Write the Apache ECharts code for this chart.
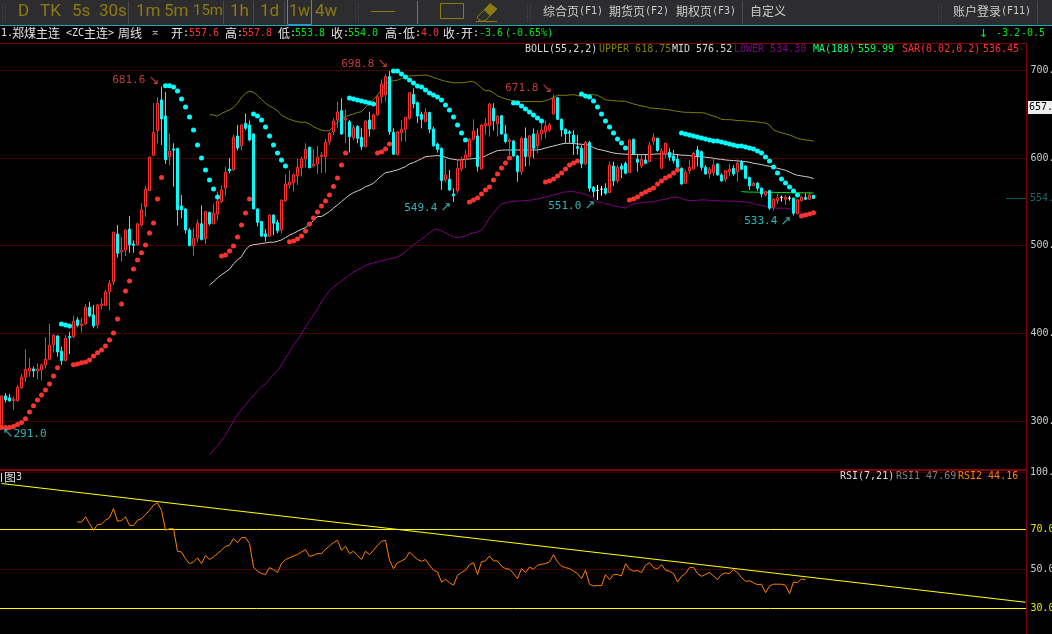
<!DOCTYPE html>
<html><head><meta charset="utf-8"><style>html,body{margin:0;padding:0;background:#000;overflow:hidden}#c{width:1052px;height:634px}</style>
<script src="https://cdn.jsdelivr.net/npm/echarts@6/dist/echarts.min.js"></script></head><body><div id="c"></div>
<script>
// [open, close, low, high], one weekly bar per row
const candles = [
[291.7,328.6,291,329],[328.6,324,321,331.6],[326.3,322.9,321.8,331],[323.3,324.8,312.6,327.8],[323.3,338.5,322,341],
[338,350,336.6,353.7],[350,359,344.6,381.8],[357,360.5,350.6,371.6],[359.4,357.1,350,362],[357,359,347.6,365.9],
[358.3,364,346,365],[364,370.4,360,395.5],[370.4,386.4,369.7,410.7],[387,397.8,378,399],[397,378.8,373.5,398],
[379.6,369,364,385],[369,394.4,368,398],[396.3,395,376.5,401.6],[396.3,413.8,394.4,419.9],[415.3,409.2,407,418.4],
[408.8,410.7,401,417.6],[410.7,429.8,409.6,433.6],[429.8,419.9,418.4,435.8],[421,408.5,405.8,432.4],[409.6,432.4,405.4,433.6],
[431.7,433.6,427.5,440],[431.7,447.3,431.3,449.5],[447.3,457.1,426,461],[458.7,515.3,455,516],[513.4,491.4,486.4,523.7],
[493,495,482,510],[495,518,488.3,518.8],[519,501,492,534],[502,500.5,492,506],[500.9,525,500.5,526],
[523.7,540.9,522,548.5],[544.7,564.4,533,568.2],[563,601,563,601.8],[603,629.5,602.5,662.6],[631.4,662.6,617,669.4],
[666.4,644.7,615,681.6],[648,598,593.4,675.5],[601.7,608,592,628],[610.5,609.3,567.5,617],[611,541,523,612],
[545.4,541,531.4,558],[542,518,514,543],[518,500,500,520],[500,508.5,488.8,520],[508.5,525.7,503.6,530],
[525,507,506,546],[508,539,502,540],[538,525,523,539],[525,537,525,548],[536,551,529,562],
[550.4,563.7,549,569],[565.6,584,557,590],[587.6,585.4,582.7,600],[586.5,623.8,585.7,626.8],[625.3,611.6,608.6,637.8],
[614,637.8,608.6,639],[639.7,634,632,651],[637.8,620.7,619,643],[627.6,542,542,628],[542,526.8,522,542.8],
[527.6,511,510,528],[513.5,510.4,504.7,519],[511,535,510,536],[535,525.6,512,536],[526.4,517,514,529.5],
[518,552,514,553],[551.5,570.5,550,581.6],[569.4,572.8,565.6,586.5],[572,580.8,561.8,582.7],[580,589.5,569.4,599.8],
[589,599,579,601.7],[599,610,589.5,617],[612.4,589,588.4,613],[591,593.4,589.5,610],[593.4,601,582,613.9],
[601.7,603.6,583,607],[601.7,618,583.5,621.9],[618.8,628.3,615,630],[630,642.4,626.4,645.4],[643.5,652.7,634,664.5],
[654.2,627.6,626.4,668.3],[643.5,645.4,617,655.7],[641.6,624.5,606.3,643.5],[623.4,634.8,620.7,637.8],[636,622.6,617,637.8],
[623.8,613,609.3,634],[613,642.4,612.4,643.5],[643.5,633.3,624.5,653],[633.3,649.3,632,651],[649.3,670,648.5,672],
[670,684.6,662.6,690],[672,693,664.5,696],[693,630,626.4,699.4],[629.5,604.4,603.6,634],[604,630,603,631],
[629,633,618.8,643.5],[633,646.6,618.8,647],[645.4,674.7,644,675.5],[672.8,661.8,657,679.7],[663.3,648,640,664.5],
[650,644.3,634,653],[641.6,652.3,640.9,657],[652,633,628.3,653],[633.3,614,613,636],[616,610,606.3,617.7],
[611.2,574.3,563.7,612.4],[575,580.8,573,599],[575.9,563.7,562.5,586.5],[559,557.2,550,565.6],[563,588.4,560,598],
[587.6,597.9,584.6,601.7],[598.7,603.6,588.4,609.3],[601.7,621.5,601,622.6],[621.5,631,620,644.3],[625.3,590.3,584.6,634],
[587.6,637.8,587.2,639],[637,639.7,626.4,645.4],[637,661.8,624.5,662.6],[656.9,642.4,631.4,662.6],[639,648,624.5,649],
[648.5,627.6,626.4,649],[627.6,618.8,617,638],[618.8,620.7,603.6,622.6],[619.6,602.5,601.7,620.7],[602.5,584.6,573,603.6],
[584.6,622.6,580.8,624.5],[622.6,601.7,590.3,635],[601.7,625.3,591,626.4],[627.6,611.2,599.8,634],[614,627.6,605.5,632],
[627.6,632,620.7,639.7],[630,636.7,622.6,642.8],[632,638,630,640],[650.4,668.3,649.3,672.8],[669,644.3,643.5,670],
[644.3,632.2,624.5,645.4],[632.9,627.6,617,634],[630,628.4,617,632],[626.4,617.7,603.6,632],[613,611.2,603.6,626.4],
[611.2,593.4,588.4,615],[593.4,617.7,592,619.6],[617.7,565.6,561.8,619.6],[566.7,561.8,555.3,568.2],[563,563,552.3,569.4],
[564.5,564.5,557.2,568],[565.6,559.9,558,571.3],[560.7,592,559.9,596],[591,574,568.3,596],[574,589.5,571.3,592],
[591,587.3,577,594],[594,582.7,581.6,596],[583.5,620.7,582.7,621.5],[621.5,604.8,603.6,622.3],[598.7,595.3,584.6,603.6],
[591,598.7,588.4,603.6],[597.9,594.1,593,604.8],[596,615,595.3,618.8],[618.8,623.8,615,628.3],[622.6,608.6,607.4,623.4],
[588.4,608.2,587.6,611.2],[604.8,617,599.8,617.7],[606.7,601,597,611.2],[602.5,597.2,594,609.3],[598.7,589.5,586.5,604.8],
[588.4,570.5,569.4,589.5],[571.3,583.5,570.5,586.5],[585.4,589.5,582,598],[587.6,605.5,587.2,607.4],[609.3,602.5,590.3,613.9],
[607.4,589.5,585.8,608.6],[589.5,582,580.8,592],[582,587.3,577,589.5],[583.5,592.2,579.7,599.8],[593.4,580.8,580,594],
[580.8,574,573,582.7],[575.9,585.8,573,586.5],[584.6,587.3,579,593.4],[588.4,582,579.7,592.2],[584.6,594.1,573,598.7],
[596,587.3,586.5,597.9],[591,577,576,591.8],[577.8,568.3,563.7,578.9],[568.6,571.3,568.3,572.5],[571.3,565.6,562.5,573],
[565.6,559.1,555.3,566.7],[558,561.8,556,562.5],[563,542.8,541,563.7],[543.9,553,540,554.2],[551.5,554.6,547.7,559.9],
[555.3,555.3,550.4,557.2],[553,555.3,546.6,558],[554.2,554.2,551.5,556.8],[554.2,537,534.4,555.3],[536.3,552.3,535.9,553],
[551.5,555.3,550.4,556.8],[555,553,552.3,559.9],[553,558,552.3,561.8],[557.6,554,553.8,557.8]
];
const dojiBars = [149,150,195,197];
const slotCount = 257;

const bollStart = 52;
const bollUpper = [649.3,649.3,648,651,653,655,658,662.6,669.4,674,676.3,675,671.7,667,662.6,659.5,657,654,649,646.6,644.3,642.8,641.3,641,641,639,636,633.7,
632,631,631.4,636,640.5,644.3,647.3,649.2,650.4,652,653,658,662.6,667,672,677.8,684.6,687.3,688.4,689,691,693,693.7,694,694.5,694.5,695,693.7,692,690.7,689,687.7,687,686,686,686,686.5,687.3,687.3,684.6,680,677,677,674.7,671,669.4,667.5,666.4,665.6,664.8,664.5,664.5,664.5,664.5,664.5,664.5,665.6,667,669.4,671.7,
671.7,671.7,672,672.5,671.3,671,671.7,672.5,672.5,671.7,669.4,666.4,666,665.6,665.2,664.9,664.9,663.3,661.8,660.7,659.5,658.8,657.3,656.9,656.5,656.1,655.7,655,654.2,653.4,652.7,652.3,652.3,651.9,651.9,651.9,651.2,649.3,648,646.6,644.3,643.9,643.9,643.5,642.8,642.8,642.4,642,641.7,641.3,640.5,640.1,637.9,632.2,630.3,629,627.6,626.4,624.6,622.6,621.5,620.7,620.4,619.2];
const bollMid = [455.3,458.7,463.3,466.8,470,473.2,479.3,483.8,487.6,495.2,499.8,501.3,501.7,502.5,503.2,504,504,505.1,506.6,509.3,512,514.2,516.5,518.8,520.7,524.5,528.7,533.3,
533.3,536,539,542.8,546.6,550.4,554.2,558,560.6,562.5,564.4,567.5,569,571.3,575.9,579.7,583.5,584.2,585.4,586.5,588.4,590.3,593.4,594.9,597.1,599.4,601.7,602.1,602.5,602.9,602.1,601,599.4,598.7,597.9,597.9,598.7,599,599.4,599.8,600.6,602.5,604.8,606.7,608.6,609,609.3,609.3,609.3,609.3,609.3,609.3,609.3,609.3,609.3,610.1,611.6,612.7,613.9,615,616.2,616.9,616.9,
616.6,616.2,615.8,615.4,614.7,612,610.1,609.3,608.2,607,605.9,605.2,604.8,604.4,604.4,604,604,604,604,604.4,604.4,604.8,604.8,604.8,604.8,604.4,604,603.3,603.3,602.9,602.1,601.7,601.4,601,600.6,599.8,599,598.7,597.9,597.5,597.2,596.8,596.4,596,595.3,594.1,593.4,592.6,591.5,590.7,589.6,588.4,587.3,586.1,584.2,581.9,580.4,579.7,578.9,578.2,576.6];
const bollLower = [261.3,267,271.5,277.3,284,292,300,307,312.7,318.3,324,328.6,334.3,339,342.3,348,352.6,357,364,372,378.8,386.8,392.5,399.3,407.3,414.2,421,427.9,435.9,442.7,448.4,453,456.4,459.8,463.3,466.7,470,472.4,474.7,477,479.2,480.4,481.5,482.7,483.8,485,486,487.3,489.5,493,497.5,501,504.3,507.7,511,514.6,518,519,516.9,514.6,512.3,510,508.9,510,511,513.4,514.6,515.7,518,523.7,531.7,537.4,543,547.7,549,550,550.5,551,551,551.7,552,552.5,553.4,554.5,555.7,556.8,558,559,
560.7,561.4,561.8,561.8,560.7,559.9,558.4,556.9,553,550,549.3,548.1,547.3,545.4,544.7,543.9,542.8,546.2,547.7,548.5,548.9,549.3,550,550.4,551.5,552.3,553,554.6,555.3,555.3,553.8,552.3,551.5,551.5,551.9,552.3,552.3,551.9,551.5,551.5,551.1,551.1,550.8,550.8,550.4,550.4,550,549.3,548.1,547,546.2,545,543.9,543.2,542.8,542.8,542.8,542.4,540.9,538.6,537.5,536.3,535.6,535.2];

const maStart = 185;
const ma188 = [561.8,561.4,561.2,561.2,561.1,561.1,561,561,560.9,560.8,560.8,560.7,560.6,560.6,560.5,560.5,560.4,560.3,560.2];

// stop-and-reverse dots: [first bar, values]
const sarRed = [
 [0,[292.5,292.5,292.5,293.6,295.9,298.2,302.4,310.3,317.2,324,329.7,335.4,342.3,351.4,360.6]],
 [18,[364,365.1,366.3,367.4,369.7,374.2,377.7,381,385.6,392.5,400.5,416.5,433.6,448.4,459.8,473.5,483.8,492,500.9,514.6,526,553.4,577.8]],
 [55,[488.4,489.5,494,499.8,510,523.7,537.4,553.4]],
 [72,[504.4,505.5,507.8,511.2,516.9,524.9,531.7,538.6,545.4,551.1,558,567.5,577.4,592.2,605.9]],
 [94,[605.9,607,610.5,616.2]],
 [117,[550,552.3,554.6,559.1,563.7,567.1,575,582,588.8,594.5,600.2]],
 [136,[572.8,574,576.2,579.7,583,587.7,592.2,594.5,596.8]],
 [157,[552.3,553.4,555.7,559.1,561.4,563.7,566,570.5,574,577.4,579.7,583.1,586.5]],
 [200,[534,535.2,536.3,537.5]]
];
const sarCyan = [
 [15,[410.7,409.6,408.5]],
 [41,[682.7,682.7,681.2,676.6,667.5,658.4,647,632,615,600.2,586.5,575,564.8,555.7]],
 [63,[650.4,648,643.5,635.6,625.3,615,605.9,597.9,591]],
 [87,[668.6,667.5,666.4,665.2,664,662.9,661.8]],
 [98,[699.4,699.4,696,692.6,689.2,685.8,682.3,681.2,677.8,674.4,672,669.8,666.4,660.7,655,647,637.8,628.7,620.7]],
 [128,[662.9,662.9,659.5,656,652.7,649.3,645.8,642.4]],
 [145,[673.2,671,669.8,665.2,658.4,650.4,642.4,635.6,628.7,621.9,617.3,611.6]],
 [170,[628.7,627.6,626.4,625.3,624.2,623,621.9,620.7,619.6,619.6,618.5,617.3,616.2,615,613.9,613.9,612.8,611.6,610.5,608.2,605.9,601.4,596.8,589.9,583.1,576.3,571.7,567.1,562.6,558]]
];

const rsiStart = 19;
const rsi2 = [73.8,73.8,76.4,73,69.6,72.5,72.7,74.7,75.9,80.6,74.2,74.5,76.4,72.1,72,74.7,75.5,77.5,79.7,82.3,83.5,79.7,69.6,70.4,70.4,59,58.6,55.2,52.7,53.6,55.6,52.7,56.8,54.8,56.1,57.8,59.5,61.5,62,65.4,63.4,65.9,65.9,62.9,51,48.9,47.7,47.2,50.7,49.7,48.2,52.7,54.8,55.6,56.6,57.3,58.6,59.8,56.4,56.9,57.8,57.8,60,61.7,63.4,64.5,59.5,61.5,57.8,59,56.9,54.8,59,57.3,59.5,62,64,64.5,54.4,50.2,53.2,54.1,55.2,58.6,56.6,54.8,53.9,54.8,51.9,49.4,48.5,43.4,44.8,43.1,41.8,46.8,48.2,49.4,52.2,53.2,47.2,53.6,54.1,56.6,54.1,54.1,51.4,50.2,49.9,47.7,45.1,
50.2,48.2,51,49.9,51.9,52.4,52.7,53.6,57.3,53.6,51.4,50.7,50.2,48.9,47.7,45.1,49.4,42.3,41.4,41.6,41.6,47.2,44.6,47.2,47.2,46.5,52.7,49.9,48.9,49.2,48.2,51.9,53.2,50.7,50,52.2,49.4,48.9,47.7,43.4,46.3,47.7,50.7,50.9,47.7,46.3,47.3,48.2,46.5,44.6,47.3,48,47.7,49.7,48.2,45.6,43.8,44,43,42.1,42.3,38,41.4,42.3,42.3,42.3,41.8,37.5,43.4,43.1,45,44.6];
const rsiTrend = [[0,93.3],[256,33.2]];
const rsiLevels = [70,30];
const rsiMidLevels = [50];
const rsiTicks = [70,50,30];
const priceTicks = [300,400,500,600,700];

const highMarks = [[40,681.6,'681.6','↘',-2,-6],[97,699.4,'698.8','↘',-1,-7],[138,672.8,'671.8','↘',-1,-6]];
const lowMarks = [[113,550,'549.4','↗',-2,6],[149,551,'551.0','↗',-2,5],[198,534.4,'533.4','↗',-2,6]];
const startMark = [[0,291,'291.0','↖',1,5]];

const OLIVE='#8c7a12', MONO="'DejaVu Sans Mono'", CJK="'Noto Sans CJK SC'";
const RED='#ff3232', CYAN='#00ffff', GREEN='#00e61a';

function t(text,x,y,fill,size,fam,align){return {type:'text',z:50,silent:true,style:{text,x,y,fill,font:(size||10)+'px '+(fam||MONO),textVerticalAlign:'middle',verticalAlign:'middle',textAlign:align||'left',align:align||'left'}};}
function r(x,y,w,h,fill){return {type:'rect',z:40,silent:true,shape:{x,y,width:w,height:h},style:{fill}};}
function hollow(x,y,w,h,stroke){return {type:'rect',z:41,silent:true,shape:{x,y,width:w,height:h},style:{fill:'transparent',stroke,lineWidth:1}};}
function dots(x){const a=[];for(let j=0;j<8;j++){a.push(r(x,4+j*2.4,1,1,'#4a4a4e'));a.push(r(x+3,4+j*2.4,1,1,'#4a4a4e'));}return a;}

const g=[
 r(0,0,1052,25,'#2d2d30'), r(0,25,1052,1,'#22a8b0'),
 t('D',18,11.5,OLIVE,17,'Roboto'),t('TK',40,11.5,OLIVE,17,'Roboto'),t('5s',72,11.5,OLIVE,17,'Roboto'),t('30s',99,11.5,OLIVE,17,'Roboto'),
 t('1m',136,11.5,OLIVE,17,'Roboto'),t('5m',164,11.5,OLIVE,17,'Roboto'),t('15m',193,11.5,OLIVE,15,'Roboto'),
 t('1h',230,11.5,OLIVE,17,'Roboto'),t('1d',260,11.5,OLIVE,17,'Roboto'),t('1w',289,12,OLIVE,16,'Roboto'),t('4w',315,11.5,OLIVE,17,'Roboto'),
 hollow(287.5,-2,24,26.5,'#2a90e0'),
 r(371,11,24,1,OLIVE),hollow(440.5,3.5,23,15,OLIVE),
 {type:'polygon',z:41,silent:true,shape:{points:[[477,17],[490,4],[497,9],[485,21],[480,21]]},style:{fill:'transparent',stroke:OLIVE}},
 {type:'polygon',z:42,silent:true,shape:{points:[[484,10],[490,3],[497,9],[490,16]]},style:{fill:OLIVE}},
 r(476,21,21,1,OLIVE),
 r(128,1,1,23,'#4a4a4e'),r(223,1,1,23,'#4a4a4e'),r(253,1,1,23,'#4a4a4e'),r(284,1,1,23,'#4a4a4e'),r(417,1,1,23,OLIVE),r(742,1,1,23,'#4a4a4e'),r(1037,1,1,23,'#4a4a4e'),
 ...dots(2),...dots(355),...dots(527),...dots(938),
 t('综合页',543,11,'#cccccc',12,CJK),t('(F1)',579,11,'#cccccc'),t('期货页',609,11,'#cccccc',12,CJK),t('(F2)',645,11,'#cccccc'),
 t('期权页',676,11,'#cccccc',12,CJK),t('(F3)',712,11,'#cccccc'),t('自定义',750,11,'#cccccc',12,CJK),t('账户登录',953,11,'#cccccc',12,CJK),t('(F11)',1001,11,'#cccccc'),
 // quote line
 t('1.',1,33.5,'#e6e6e6'),t('郑煤主连',12,33.5,'#e6e6e6',12,CJK),t('<ZC',66,33.5,'#e6e6e6'),t('主连',84,33.5,'#e6e6e6',12,CJK),t('>',108,33.5,'#e6e6e6'),t('周线',118,33.5,'#e6e6e6',12,CJK),t('≍',152,33.5,'#e6e6e6'),
 t('开',171,33.5,'#e6e6e6',12,CJK),t(':',183,33.5,'#e6e6e6'),t('557.6',189,33.5,RED),
 t('高',225,33.5,'#e6e6e6',12,CJK),t(':',237,33.5,'#e6e6e6'),t('557.8',242,33.5,RED),
 t('低',278,33.5,'#e6e6e6',12,CJK),t(':',290,33.5,'#e6e6e6'),t('553.8',295,33.5,GREEN),
 t('收',331,33.5,'#e6e6e6',12,CJK),t(':',343,33.5,'#e6e6e6'),t('554.0',348,33.5,GREEN),
 t('高',385,33.5,'#e6e6e6',12,CJK),t('-',397,33.5,'#e6e6e6'),t('低',403,33.5,'#e6e6e6',12,CJK),t(':',415,33.5,'#e6e6e6'),t('4.0',421,33.5,RED),
 t('收',443,33.5,'#e6e6e6',12,CJK),t('-',455,33.5,'#e6e6e6'),t('开',461,33.5,'#e6e6e6',12,CJK),t(':',473,33.5,'#e6e6e6'),t('-3.6',479,33.5,GREEN),t('(-0.65%)',505,33.5,GREEN),
 t('↓',979,33.5,GREEN,15),t('-3.2',996,33.5,GREEN),t('-0.5',1021,33.5,GREEN),
 // indicator legend
 t('BOLL(55,2,2)',525,49,'#d8d8d8'),t('UPPER 618.75',599,49,'#808000'),t('MID 576.52',672,49,'#d8d8d8'),t('LOWER 534.30',734,49,'#800080'),
 t('MA(188)',813,49,'#00ff7f'),t('559.99',858,49,'#00ff40'),t('SAR(0.02,0.2)',902,49,RED),t('536.45',983,49,RED),
 // sub-panel legend
 t('图',4,477,'#dddddd',12,CJK),t('3',16,477,'#dddddd'),r(1,472,1,10,'#dddddd'),
 t('RSI(7,21)',840,476,'#dddddd'),t('RSI1 47.69',896,476,'#808080'),t('RSI2 44.16',958,476,'#ff8000'),
 t('100.0',1030,472,'#cccccc'),
 // frame
 r(0,43,1026,1,'#800000'),r(0,469,1026,2,'#800000'),r(0,472,1026,1,'#400000'),
 r(1027,26,2,608,'#000000'),r(1026,43,1,591,'#800000'),
 // last price markers
 r(1028,101,24,13,'#eeeeee'),t('657.',1029,107.5,'#000000'),
 r(1006,198,20,1,'#0a5a5a'),t('554.',1030,198.5,'#0f6a6a')
];

function seg(list,color){const out=[];list.forEach(([s,v])=>v.forEach((y,k)=>out.push([s+k,y])));
 return {type:'scatter',xAxisIndex:0,yAxisIndex:0,symbol:'circle',symbolSize:5,itemStyle:{color,opacity:1},data:out,silent:true,z:6};}
function line(start,vals,color,w){return {type:'line',xAxisIndex:0,yAxisIndex:0,data:vals.map((v,k)=>[start+k,v]),showSymbol:false,symbol:'none',lineStyle:{color,width:w||1},silent:true,z:4,animation:false};}
function marks(list,color,pos){return {type:'scatter',xAxisIndex:0,yAxisIndex:0,symbolSize:0,silent:true,z:7,
  data:list.map(m=>({value:[m[0],m[1]],label:{show:true,position:pos,distance:0,offset:[m[4],m[5]],
   formatter:pos==='left'?'{n|'+m[2]+'} {a|'+m[3]+'}':'{a|'+m[3]+'}{n|'+m[2]+'}',
   rich:{n:{color,fontFamily:'DejaVu Sans Mono',fontSize:11},a:{color,fontFamily:'DejaVu Sans',fontSize:13}}}}))};}

const option={
 animation:false,backgroundColor:'#000',
 grid:[{left:-0.5,top:43,width:slotCount*4,height:427,outerBoundsMode:'none',containLabel:false},{left:-0.5,top:470.25,width:slotCount*4,height:163.75,outerBoundsMode:'none',containLabel:false}],
 xAxis:[0,1].map(i=>({type:'category',gridIndex:i,data:Array.from({length:slotCount},(_,k)=>k),boundaryGap:true,axisLine:{show:false},axisTick:{show:false},axisLabel:{show:false},splitLine:{show:false}})),
 yAxis:[
  {type:'value',gridIndex:0,position:'right',min:244,max:731.4,axisLine:{show:false},axisTick:{show:false},splitLine:{show:false},
   axisLabel:{customValues:priceTicks,margin:3,color:'#cccccc',fontFamily:'DejaVu Sans Mono',fontSize:10,formatter:v=>v.toFixed(1)}},
  {type:'value',gridIndex:1,position:'right',min:17.09,max:100,axisLine:{show:false},axisTick:{show:false},splitLine:{show:false},
   axisLabel:{customValues:rsiTicks,margin:3,fontFamily:'DejaVu Sans Mono',fontSize:10,formatter:v=>v.toFixed(1),
    color:v=>rsiLevels.includes(+v)?'#e6e600':'#cccccc'}}
 ],
 graphic:{elements:g},
 series:[
  {type:'candlestick',xAxisIndex:0,yAxisIndex:0,barWidth:2,silent:true,z:5,
   itemStyle:{color:'#000',color0:CYAN,borderColor:RED,borderColor0:CYAN,borderWidth:1},
   data:candles.map((c,i)=>dojiBars.includes(i)?{value:c,itemStyle:{color:'#fff',color0:'#fff',borderColor:'#fff',borderColor0:'#fff'}}:c),
   markLine:{silent:true,symbol:'none',label:{show:false},lineStyle:{color:'#440000',width:1,type:'solid'},data:priceTicks.map(v=>({yAxis:v})),z:1}},
  line(bollStart,bollUpper,'#808000'),
  line(bollStart,bollMid,'#d0d0d0'),
  line(bollStart,bollLower,'#800080'),
  line(maStart,ma188,'#00e61a'),
  seg(sarRed,RED),seg(sarCyan,CYAN),
  marks(highMarks,'#f04a4a','left'),marks(lowMarks,'#38e0e0','left'),marks(startMark,'#38e0e0','right'),
  {type:'line',xAxisIndex:1,yAxisIndex:1,data:rsi2.map((v,k)=>[rsiStart+k,v]),showSymbol:false,symbol:'none',lineStyle:{color:'#ff8000',width:1},silent:true,z:5,
   markLine:{silent:true,symbol:'none',label:{show:false},data:[...rsiLevels.map(v=>({yAxis:v,lineStyle:{color:'#ffff00',width:1,type:'solid'}})),...rsiMidLevels.map(v=>({yAxis:v,lineStyle:{color:'#440000',width:1,type:'solid'}}))]}},
  {type:'line',xAxisIndex:1,yAxisIndex:1,data:rsiTrend,showSymbol:false,symbol:'none',lineStyle:{color:'#ffff00',width:1.1},silent:true,z:6}
 ]
};
const chart=echarts.init(document.getElementById('c'),null,{renderer:'canvas'});
chart.setOption(option);
</script></body></html>
